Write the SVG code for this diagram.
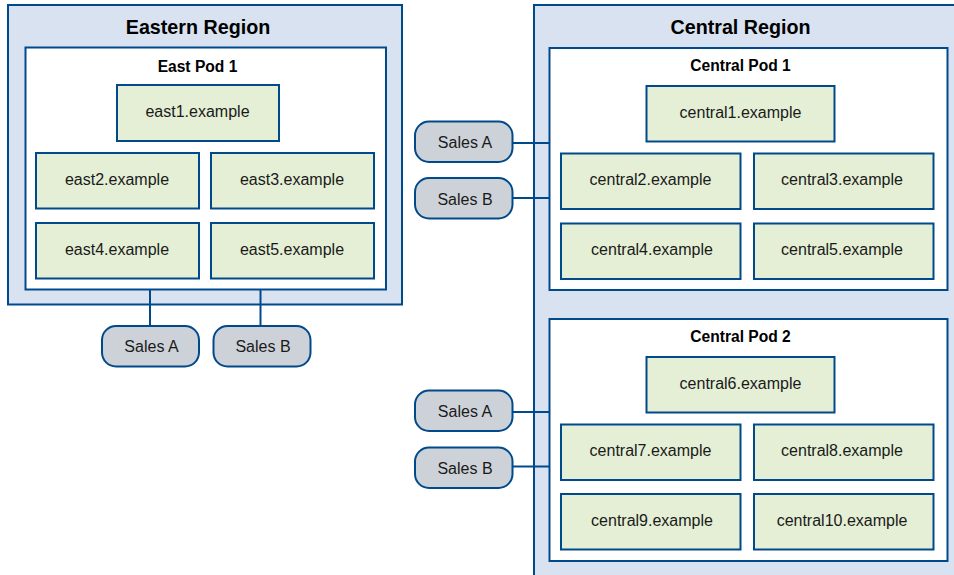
<svg xmlns="http://www.w3.org/2000/svg" width="954" height="575" viewBox="0 0 954 575">
<style>
text{font-family:"Liberation Sans",Arial,sans-serif;text-anchor:middle;fill:#1a1a1a}
.region{fill:#d8e2f1;stroke:#004a8c;stroke-width:2}
.pod{fill:#fff;stroke:#004a8c;stroke-width:2}
.server{fill:#e4efd5;stroke:#004a8c;stroke-width:2}
.sales{fill:#cdd2d8;stroke:#004a8c;stroke-width:2}
.conn{fill:none;stroke:#004a8c;stroke-width:2}
.rt{font-size:19.700px;font-weight:bold;fill:#000}
.pt{font-size:15.600px;font-weight:bold;fill:#000}
.st{font-size:16px}
</style>
<g id="eastern-region"><rect class="region" x="8" y="5" width="394" height="299.500"/><text class="rt" x="198" y="33.500">Eastern Region</text></g>
<g id="central-region"><rect class="region" x="534" y="5" width="430" height="580"/><text class="rt" x="740.500" y="33.500">Central Region</text></g>
<g id="east-pod-1"><rect class="pod" x="25.500" y="47.500" width="360.500" height="242"/><text class="pt" x="197.500" y="71.500">East Pod 1</text></g>
<g id="central-pod-1"><rect class="pod" x="549.500" y="48" width="398" height="242"/><text class="pt" x="740.500" y="70.500">Central Pod 1</text></g>
<g id="central-pod-2"><rect class="pod" x="549.500" y="319" width="398" height="242"/><text class="pt" x="740.500" y="342">Central Pod 2</text></g>
<g id="connectors">
<path class="conn" d="M150 290V326M260.500 290V326M513 143H550M513 198H550M513 412H550M513 466.500H550"/>
</g>
<g id="east1"><rect class="server" x="117" y="85" width="162" height="56"/><text class="st" x="197.500" y="117">east1.example</text></g>
<g id="east2"><rect class="server" x="36" y="153" width="163" height="55.500"/><text class="st" x="117" y="185">east2.example</text></g>
<g id="east3"><rect class="server" x="211" y="153" width="163" height="55.500"/><text class="st" x="292" y="185">east3.example</text></g>
<g id="east4"><rect class="server" x="36" y="223" width="163" height="55.500"/><text class="st" x="117" y="255">east4.example</text></g>
<g id="east5"><rect class="server" x="211" y="223" width="163" height="55.500"/><text class="st" x="292" y="255">east5.example</text></g>
<g id="central1"><rect class="server" x="646.500" y="86" width="188" height="55.500"/><text class="st" x="740.500" y="118">central1.example</text></g>
<g id="central2"><rect class="server" x="561" y="153.500" width="179.500" height="55.500"/><text class="st" x="650.500" y="185">central2.example</text></g>
<g id="central3"><rect class="server" x="754" y="153.500" width="179.500" height="55.500"/><text class="st" x="842" y="185">central3.example</text></g>
<g id="central4"><rect class="server" x="561" y="223.500" width="179.500" height="55.500"/><text class="st" x="652" y="255">central4.example</text></g>
<g id="central5"><rect class="server" x="754" y="223.500" width="179.500" height="55.500"/><text class="st" x="842" y="255">central5.example</text></g>
<g id="central6"><rect class="server" x="646.500" y="357" width="188" height="55.500"/><text class="st" x="740.500" y="389">central6.example</text></g>
<g id="central7"><rect class="server" x="561" y="424.500" width="179.500" height="55.500"/><text class="st" x="650.500" y="456">central7.example</text></g>
<g id="central8"><rect class="server" x="754" y="424.500" width="179.500" height="55.500"/><text class="st" x="842" y="456">central8.example</text></g>
<g id="central9"><rect class="server" x="561" y="494" width="179.500" height="55.500"/><text class="st" x="652" y="526">central9.example</text></g>
<g id="central10"><rect class="server" x="754" y="494" width="179.500" height="55.500"/><text class="st" x="842" y="526">central10.example</text></g>
<g id="sales-a-east"><rect class="sales" x="102" y="326" width="97" height="40.500" rx="14"/><text class="st" x="151.500" y="352">Sales A</text></g>
<g id="sales-b-east"><rect class="sales" x="213.500" y="326" width="97" height="40.500" rx="14"/><text class="st" x="263" y="352">Sales B</text></g>
<g id="sales-a-central1"><rect class="sales" x="415" y="121.500" width="97.500" height="40.500" rx="14"/><text class="st" x="465" y="148">Sales A</text></g>
<g id="sales-b-central1"><rect class="sales" x="415" y="178" width="97.500" height="40.500" rx="14"/><text class="st" x="465" y="205">Sales B</text></g>
<g id="sales-a-central2"><rect class="sales" x="415" y="390.500" width="97.500" height="40.500" rx="14"/><text class="st" x="465" y="417">Sales A</text></g>
<g id="sales-b-central2"><rect class="sales" x="415" y="447.500" width="97.500" height="40.500" rx="14"/><text class="st" x="465" y="474">Sales B</text></g>
</svg>
